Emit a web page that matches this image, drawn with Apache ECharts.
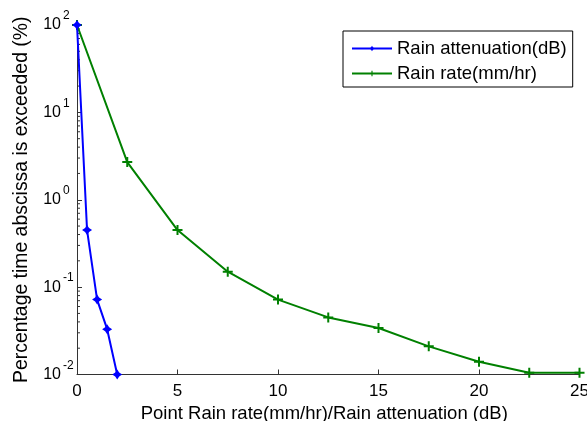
<!DOCTYPE html>
<html>
<head>
<meta charset="utf-8">
<script src="https://cdn.jsdelivr.net/npm/echarts@6/dist/echarts.min.js"></script>
<style>
html,body{margin:0;padding:0;background:#fff;}
#c{width:587px;height:421px;}
</style>
</head>
<body>
<div id="c"></div>
<script>
// Data
var attenX = [0, 0.5, 1, 1.5, 2];
var attenY = [100, 0.45, 0.072, 0.033, 0.01];
var rateX = [0, 2.5, 5, 7.5, 10, 12.5, 15, 17.5, 20, 22.5, 25];
var rateY = [100, 2.7, 0.45, 0.15, 0.072, 0.045, 0.034, 0.021, 0.014, 0.0105, 0.0105];
var seriesNames = ['Rain attenuation(dB)', 'Rain rate(mm/hr)'];
var xTicks = [0, 5, 10, 15, 20, 25];
var yMinorTicks = [
  0.02, 0.03, 0.04, 0.05, 0.06, 0.07, 0.08, 0.09,
  0.2, 0.3, 0.4, 0.5, 0.6, 0.7, 0.8, 0.9,
  2, 3, 4, 5, 6, 7, 8, 9,
  20, 30, 40, 50, 60, 70, 80, 90
];

function pairs(xs, ys) { return xs.map(function (x, i) { return [x, ys[i]]; }); }
// exponent drawn on the first of two lines, so it sits above the tick like a superscript
function exponentOf(v) { return String(Math.round(Math.log(v) / Math.LN10)) + '\n\u00a0'; }

var FONT = 'Liberation Sans, Arial, sans-serif';
var AXIS = '#333333';
var starPath = 'path://M0,-5L2,-2L5,0L2,2L0,5L-2,2L-5,0L-2,-2Z';
var plusPath = 'path://M-1,-5H1V-1H5V1H1V5H-1V1H-5V-1H-1Z';

var logAxisBase = {
  type: 'log', logBase: 10, min: 0.01, max: 100, position: 'left',
  splitLine: {show: false}, minorTick: {show: false}
};

var chart = echarts.init(document.getElementById('c'), null, {renderer: 'canvas'});
chart.setOption({
  animation: false,
  backgroundColor: '#ffffff',
  textStyle: {fontFamily: FONT},
  grid: {left: 77, right: 7.5, top: 25, bottom: 46.5, outerBoundsMode: 'none', containLabel: false},
  legend: {
    data: seriesNames,
    orient: 'vertical',
    left: 343, top: 31,
    padding: [8, 6, 4, 8],
    itemWidth: 40, itemHeight: 7, itemGap: 6,
    borderColor: '#000', borderWidth: 1, borderRadius: 0,
    backgroundColor: '#fff',
    textStyle: {fontSize: 18.5, color: '#000', fontFamily: FONT}
  },
  xAxis: {
    type: 'value', min: xTicks[0], max: xTicks[xTicks.length - 1], interval: 5,
    name: 'Point Rain rate(mm/hr)/Rain attenuation (dB)',
    nameLocation: 'middle', nameGap: 27,
    nameTextStyle: {fontSize: 18.5, color: '#000', fontFamily: FONT, padding: [0, 8, 0, 0]},
    axisLine: {show: true, lineStyle: {color: AXIS, width: 1}},
    axisTick: {show: true, inside: true, length: 5, lineStyle: {color: AXIS}},
    axisLabel: {fontSize: 17, color: '#000', margin: 8, fontFamily: FONT},
    splitLine: {show: false}
  },
  yAxis: [
    Object.assign({}, logAxisBase, {
      name: 'Percentage time abscissa is exceeded (%)',
      nameLocation: 'middle', nameGap: 46, nameRotate: 90,
      nameTextStyle: {fontSize: 19.4, color: '#000', fontFamily: FONT},
      axisLine: {show: true, lineStyle: {color: AXIS, width: 1}},
      axisTick: {show: true, inside: true, length: 5, lineStyle: {color: AXIS}},
      axisLabel: {
        margin: 16, fontSize: 16, color: '#000', fontFamily: FONT,
        formatter: function () { return '10'; }
      }
    }),
    Object.assign({}, logAxisBase, {
      axisLine: {show: false}, axisTick: {show: false},
      axisLabel: {
        margin: 14, fontSize: 12, lineHeight: 18, color: '#000', fontFamily: FONT, align: 'left',
        formatter: exponentOf
      }
    })
  ],
  series: [
    {
      type: 'custom',
      name: 'minorTicks',
      silent: true,
      clip: false,
      z: 1,
      data: yMinorTicks.map(function (v) { return [0, v]; }),
      renderItem: function (params, api) {
        var p = api.coord([api.value(0), api.value(1)]);
        return {type: 'line', shape: {x1: p[0], y1: p[1], x2: p[0] + 3, y2: p[1]}, style: {stroke: AXIS, lineWidth: 1}};
      }
    },
    {
      name: seriesNames[0], type: 'line', data: pairs(attenX, attenY),
      symbol: starPath, symbolSize: 10, showSymbol: true, clip: false, z: 3,
      lineStyle: {color: '#0000ff', width: 2},
      itemStyle: {color: '#0000ff'}
    },
    {
      name: seriesNames[1], type: 'line', data: pairs(rateX, rateY),
      symbol: plusPath, symbolSize: 10, showSymbol: true, clip: false, z: 2,
      lineStyle: {color: '#008000', width: 2},
      itemStyle: {color: '#008000'}
    }
  ]
});
</script>
</body>
</html>
